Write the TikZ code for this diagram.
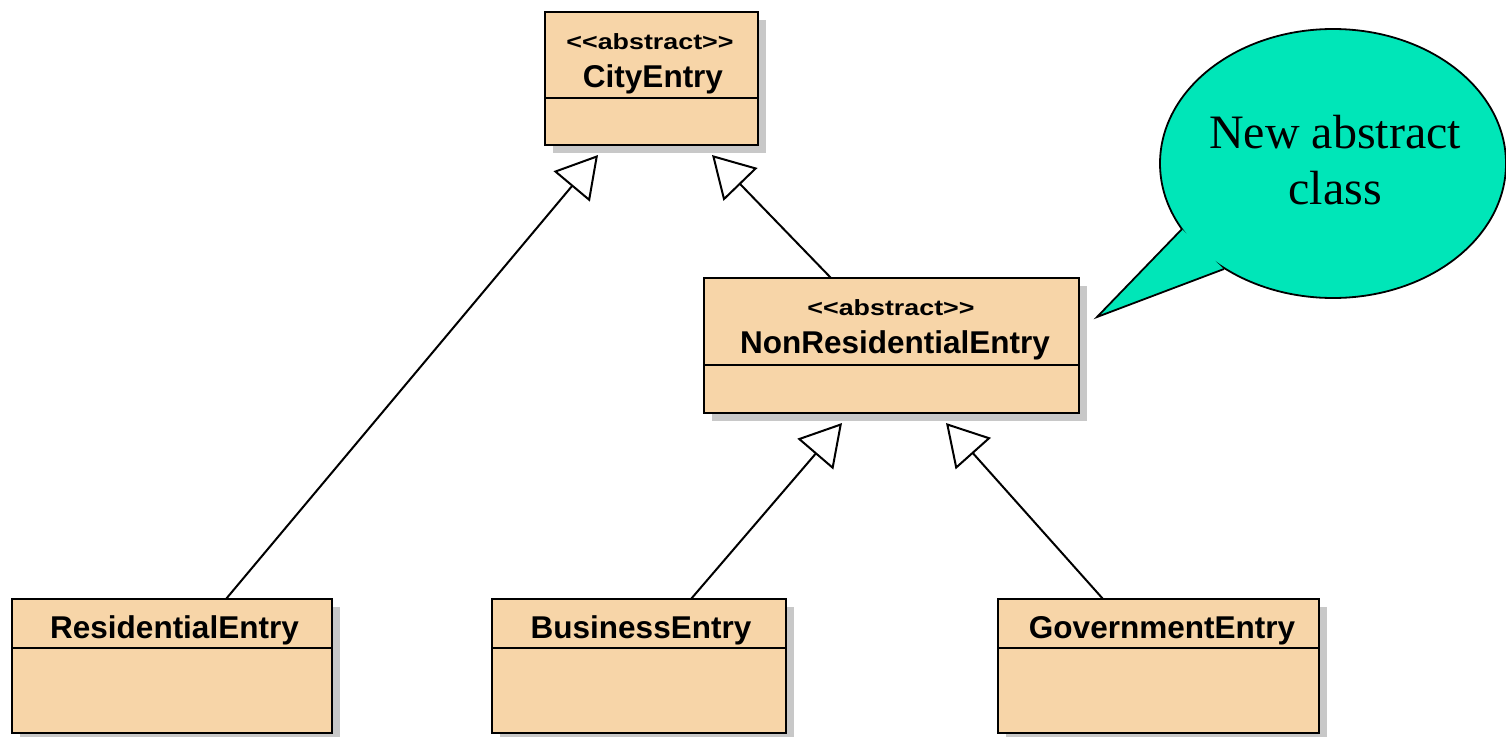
\documentclass[tikz,border=0pt]{standalone}
\usepackage{fontspec}
\setmainfont{Liberation Serif}
\newfontfamily\umlfont{Liberation Sans}
\usetikzlibrary{arrows.meta,shadows,calc}
\definecolor{boxfill}{RGB}{247,213,168}
\definecolor{shadowgray}{RGB}{200,200,200}
\definecolor{calloutfill}{RGB}{0,230,184}
\tikzset{
  cls/.style={draw=black, fill=boxfill, line width=2.5pt, rectangle, anchor=north west,
    inner sep=0pt, outer sep=0pt,
    drop shadow={shadow xshift=8pt, shadow yshift=-8pt, fill=shadowgray, opacity=1}},
  divider/.style={line width=2.5pt},
  clsname/.style={anchor=base, inner sep=0pt, font=\umlfont\bfseries\fontsize{31.5}{36}\selectfont},
  stereo/.style={anchor=base, inner sep=0pt, font=\umlfont\bfseries\fontsize{22}{26}\selectfont},
  gen/.style={line width=2pt, -{Triangle[open, fill=white, length=41pt, width=47pt, line width=2pt]}},
  callouttext/.style={inner sep=0pt, align=center, font=\fontsize{48}{56}\selectfont},
}
\newcommand{\stereotxt}{\scalebox{1.22}[1]{<\kern0pt<abstract>\kern0pt>}}
\begin{document}
\begin{tikzpicture}[x=1pt,y=-1pt]
\useasboundingbox (0,0) rectangle (1506,736);

% classes
\node[cls, minimum width=213pt, minimum height=133pt] (city) at (545,12) {};
\draw[divider] ($(city.north west)+(0,86)$) -- ($(city.north east)+(0,86)$);
\node[stereo] (cityst) at (650,49) {\stereotxt};
\node[clsname] (cityname) at (653,87) {CityEntry};

\node[cls, minimum width=375pt, minimum height=135pt] (nonres) at (704,278) {};
\draw[divider] ($(nonres.north west)+(0,87)$) -- ($(nonres.north east)+(0,87)$);
\node[stereo] (nonresst) at (891,315) {\stereotxt};
\node[clsname] (nonresname) at (895,353) {NonResidentialEntry};

\node[cls, minimum width=320pt, minimum height=134pt] (res) at (12,599) {};
\draw[divider] ($(res.north west)+(0,49)$) -- ($(res.north east)+(0,49)$);
\node[clsname] (resname) at (174.5,638) {ResidentialEntry};

\node[cls, minimum width=294pt, minimum height=134pt] (bus) at (492,599) {};
\draw[divider] ($(bus.north west)+(0,49)$) -- ($(bus.north east)+(0,49)$);
\node[clsname] (busname) at (641,638) {BusinessEntry};

\node[cls, minimum width=321pt, minimum height=134pt] (gov) at (998,599) {};
\draw[divider] ($(gov.north west)+(0,49)$) -- ($(gov.north east)+(0,49)$);
\node[clsname] (govname) at (1162,638) {GovernmentEntry};

% connector end points
\coordinate (cityTipL) at ($(city.south west)+(53,10)$);
\coordinate (cityTipR) at ($(city.south west)+(167,10)$);
\coordinate (nonTipL) at ($(nonres.south west)+(138,10)$);
\coordinate (nonTipR) at ($(nonres.south west)+(242,10)$);
\coordinate (resTop) at ($(res.north west)+(214,0)$);
\coordinate (nonTop) at ($(nonres.north west)+(127,0)$);
\coordinate (busTop) at ($(bus.north west)+(199,0)$);
\coordinate (govTop) at ($(gov.north west)+(105,0)$);

\draw[gen] (resTop) -- (cityTipL);
\draw[gen] (nonTop) -- (cityTipR);
\draw[gen] (busTop) -- (nonTipL);
\draw[gen] (govTop) -- (nonTipR);

% callout
\coordinate (cb1) at (1182,229);
\coordinate (ctip) at (1097,317);
\coordinate (cb2) at (1224,269);
\fill[calloutfill] (1333,163.5) ellipse [x radius=173pt, y radius=134.5pt];
\fill[calloutfill] (cb1) -- (ctip) -- (cb2) -- cycle;
\begin{scope}[even odd rule]
  \clip (-20,-20) rectangle (1600,800) (cb1) -- (ctip) -- (cb2) -- cycle;
  \draw[line width=1.8pt] (1333,163.5) ellipse [x radius=173pt, y radius=134.5pt];
\end{scope}
\draw[line width=1.8pt, line join=miter] (cb1) -- (ctip) -- (cb2);
\node[callouttext] (callout) at (1335,160.5) {New abstract\\class};
\end{tikzpicture}
\end{document}
